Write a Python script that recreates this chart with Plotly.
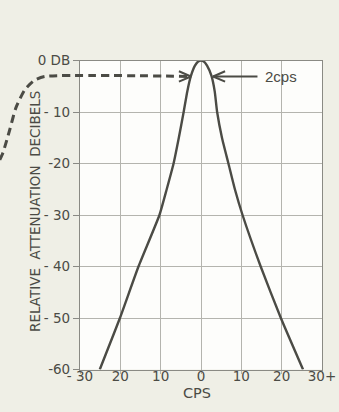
import plotly.graph_objects as go

# ---- data ----
# narrow crystal-filter response: frequency offset (cps) vs relative attenuation (dB)
resp_cps = [-25.1, -20.1, -15.5, -10.3, -8.5, -6.8, -5.5, -4.3, -3.4, -2.5, -1.5, -0.7, 0.0,
            0.7, 1.5, 2.6, 3.4, 4.0, 5.2, 6.8, 8.4, 10.3, 14.8, 19.8, 25.3]
resp_db = [-60, -50, -40, -30, -25, -20, -15, -10, -6, -3, -1, -0.2, 0,
           -0.2, -1, -3, -6, -10, -15, -20, -25, -30, -40, -50, -60]

# wide (dashed) response shown for comparison, runs off the left of the grid
wide_cps = [-49.9, -49.1, -47.4, -45.9, -43.7, -41.2, -38.7, -2.5]
wide_db = [-19.3, -17.9, -13.4, -9.2, -5.7, -3.8, -3.1, -3.1]

# bandwidth arrows
bw_level_db = -3.1
bw_left_tip = -2.5
bw_right_tip = 3.0
bw_right_tail = 14.0
bw_label = "2cps"
bw_label_x = 15.4

x_tickvals = [-30, -20, -10, 0, 10, 20, 30]
x_ticktext = ["- 30", "20", "10", "0", "10", "20", "30+"]
y_tickvals = [0, -10, -20, -30, -40, -50, -60]
y_ticktext = ["0 DB", "- 10", "-20", "- 30", "- 40", "- 50", "-60"]
x_title = "CPS"
y_title = "RELATIVE  ATTENUATION  DECIBELS"
x_range = [-30, 30]
y_range = [-60, 0]

# ---- layout geometry (pixels) ----
W, H = 339, 412
px_left, px_right, px_top, px_bottom = 80, 322, 60.5, 369.5

xd = [px_left / W, px_right / W]
yd = [1 - px_bottom / H, 1 - px_top / H]

# overlay axes spanning the whole figure with the same scale
xs = (x_range[1] - x_range[0]) / (px_right - px_left)
ys = (y_range[1] - y_range[0]) / (px_bottom - px_top)
x2_range = [x_range[0] - px_left * xs, x_range[1] + (W - px_right) * xs]
y2_range = [y_range[0] - (H - px_bottom) * ys, y_range[1] + px_top * ys]

ink = "#4b4b45"
grid = "#b4b4ae"
font = "DejaVu Sans"

# chevron size (data units on main axes)
ch_len = 12 * xs
ch_half = 5.2 * ys

fig = go.Figure()

fig.add_trace(go.Scatter(
    x=resp_cps, y=resp_db, mode="lines",
    line=dict(color=ink, width=2.4, shape="spline", smoothing=0.5),
    xaxis="x", yaxis="y", hoverinfo="skip", showlegend=False))

# right arrow: solid shaft + open chevron
fig.add_trace(go.Scatter(
    x=[bw_right_tail, bw_right_tip, None,
       bw_right_tip + ch_len, bw_right_tip, bw_right_tip + ch_len],
    y=[bw_level_db, bw_level_db, None,
       bw_level_db + ch_half, bw_level_db, bw_level_db - ch_half],
    mode="lines", line=dict(color=ink, width=2),
    xaxis="x", yaxis="y", hoverinfo="skip", showlegend=False))

# left chevron
fig.add_trace(go.Scatter(
    x=[bw_left_tip - ch_len, bw_left_tip, bw_left_tip - ch_len],
    y=[bw_level_db + ch_half, bw_level_db, bw_level_db - ch_half],
    mode="lines", line=dict(color=ink, width=2),
    xaxis="x", yaxis="y", hoverinfo="skip", showlegend=False))

# dashed wide response on full-figure overlay axes
fig.add_trace(go.Scatter(
    x=wide_cps, y=wide_db, mode="lines",
    line=dict(color=ink, width=3, dash="8px,5px", shape="spline", smoothing=0.6),
    xaxis="x2", yaxis="y2", hoverinfo="skip", showlegend=False))

fig.add_annotation(x=bw_label_x, y=bw_level_db, xref="x", yref="y",
                   text=bw_label, showarrow=False, xanchor="left", yanchor="middle",
                   font=dict(family="Liberation Sans", size=15, color=ink))

# axis titles placed as in the reference
fig.add_annotation(x=197 / W, y=1 - 393 / H, xref="paper", yref="paper",
                   text=x_title, showarrow=False, xanchor="center", yanchor="middle",
                   font=dict(family=font, size=14.5, color=ink))
fig.add_annotation(x=35 / W, y=1 - 212 / H, xref="paper", yref="paper",
                   text=y_title, showarrow=False, textangle=-90,
                   xanchor="center", yanchor="middle",
                   font=dict(family="DejaVu Sans", size=13.5, color=ink))

# white plotting area
fig.add_shape(type="rect", xref="x domain", yref="y domain", x0=0, x1=1, y0=0, y1=1,
              fillcolor="#fdfdfb", line=dict(width=0), layer="below")

axis_font = dict(family=font, size=13.5, color=ink)

fig.update_layout(
    template="none",
    width=W, height=H,
    margin=dict(l=0, r=0, t=0, b=0, autoexpand=False),
    paper_bgcolor="#efefe6",
    plot_bgcolor="rgba(0,0,0,0)",
    xaxis=dict(domain=xd, range=x_range, tickvals=x_tickvals, ticktext=x_ticktext,
               showgrid=True, gridcolor=grid, gridwidth=1.2, zeroline=False,
               showline=True, linecolor="#8a8a84", linewidth=1.2, mirror=True,
               ticks="outside", ticklen=3, tickcolor=grid, tickfont=axis_font,
               ticklabelstandoff=-9, automargin=False,
               anchor="y", fixedrange=True),
    yaxis=dict(domain=yd, range=y_range, tickvals=y_tickvals, ticktext=y_ticktext,
               showgrid=True, gridcolor=grid, gridwidth=1.2, zeroline=False,
               showline=True, linecolor="#8a8a84", linewidth=1.2, mirror=True,
               ticks="outside", ticklen=6, tickcolor="#8a8a84", tickfont=axis_font,
               automargin=False, anchor="x", fixedrange=True),
    xaxis2=dict(domain=[0, 1], range=x2_range, visible=False, anchor="y2",
                fixedrange=True, automargin=False),
    yaxis2=dict(domain=[0, 1], range=y2_range, visible=False, anchor="x2",
                fixedrange=True, automargin=False),
)

fig.write_html(
    "out.html",
    config={"displayModeBar": False},
    post_script="document.body.style.margin='0';document.body.style.overflow='hidden';"
                "document.body.style.background='#efefe6';",
)
